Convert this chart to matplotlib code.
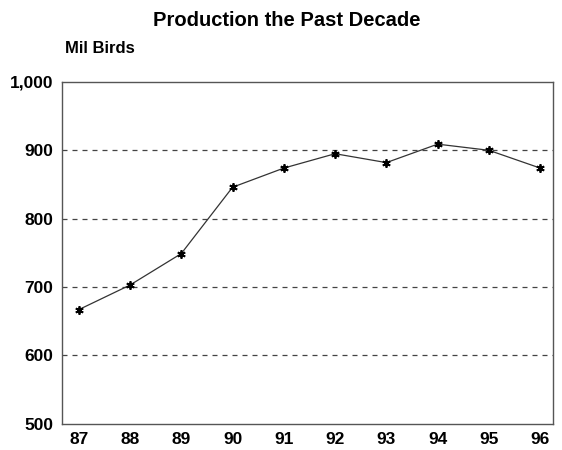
import matplotlib.pyplot as plt
from matplotlib.ticker import FuncFormatter

# Data
years = ['87', '88', '89', '90', '91', '92', '93', '94', '95', '96']
production = [667, 703, 749, 846, 874, 895, 882, 909, 900, 874]
y_ticks = [500, 600, 700, 800, 900, 1000]

plt.rcParams['font.family'] = ['Liberation Sans', 'DejaVu Sans']

fig = plt.figure(figsize=(5.62, 4.5), dpi=100)
ax = fig.add_axes([0.110, 0.058, 0.874, 0.760])

x = range(len(years))
ax.plot(x, production, color='#333333', linewidth=0.9,
        marker=(6, 2, 0), markersize=6, markeredgewidth=1.3,
        markeredgecolor='black', markerfacecolor='black')

# dashed gridlines at interior ticks
for v in y_ticks[1:-1]:
    ax.axhline(v, color='#444444', linestyle=(0, (4, 4)), linewidth=0.9, zorder=0)

ax.set_ylim(500, 1000)
ax.set_xlim(-0.33, 9.25)
ax.set_yticks(y_ticks)
ax.yaxis.set_major_formatter(FuncFormatter(lambda v, p: f'{int(v):,}'))
ax.set_xticks(list(x))
ax.set_xticklabels(years)
ax.tick_params(length=0, labelsize=12.5, pad=6)
for lbl in ax.get_xticklabels() + ax.get_yticklabels():
    lbl.set_fontweight('bold')

for s in ax.spines.values():
    s.set_color('#555555')
    s.set_linewidth(1.0)

fig.text(0.511, 0.955, 'Production the Past Decade', ha='center', va='center',
         fontsize=14.5, fontweight='bold')
fig.text(0.116, 0.893, 'Mil Birds', ha='left', va='center',
         fontsize=12, fontweight='bold')

fig.savefig('out.png', dpi=100)
